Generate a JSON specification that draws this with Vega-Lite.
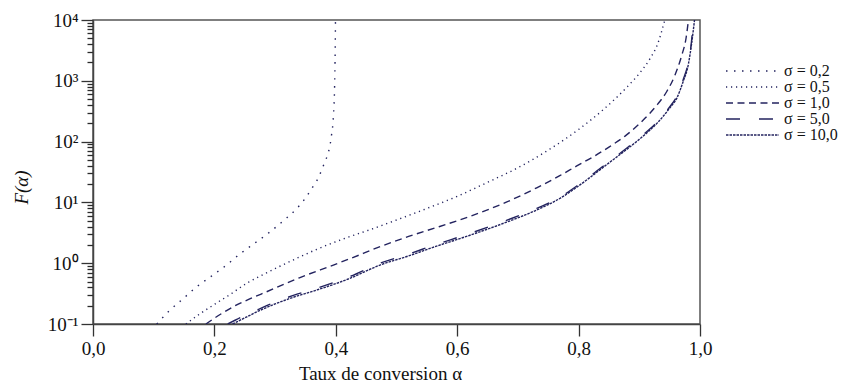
{
  "$schema": "https://vega.github.io/schema/vega-lite/v6.json",
  "width": 607,
  "height": 304,
  "autosize": {"type": "none"},
  "padding": {"left": 93, "top": 20, "right": 148, "bottom": 59},
  "background": "white",
  "config": {"view": {"stroke": "#555", "strokeWidth": 1.5}, "font": "Liberation Serif"},
  "data": {"values": [
    {"s": "σ = 0,2", "a": 0.105, "F": 0.1},
    {"s": "σ = 0,2", "a": 0.125, "F": 0.162},
    {"s": "σ = 0,2", "a": 0.149, "F": 0.264},
    {"s": "σ = 0,2", "a": 0.171, "F": 0.41},
    {"s": "σ = 0,2", "a": 0.196, "F": 0.622},
    {"s": "σ = 0,2", "a": 0.22, "F": 0.933},
    {"s": "σ = 0,2", "a": 0.242, "F": 1.416},
    {"s": "σ = 0,2", "a": 0.265, "F": 2.089},
    {"s": "σ = 0,2", "a": 0.292, "F": 3.296},
    {"s": "σ = 0,2", "a": 0.315, "F": 5.129},
    {"s": "σ = 0,2", "a": 0.336, "F": 8.0},
    {"s": "σ = 0,2", "a": 0.35, "F": 11.75},
    {"s": "σ = 0,2", "a": 0.363, "F": 18.62},
    {"s": "σ = 0,2", "a": 0.371, "F": 25.12},
    {"s": "σ = 0,2", "a": 0.382, "F": 46.77},
    {"s": "σ = 0,2", "a": 0.388, "F": 67.61},
    {"s": "σ = 0,2", "a": 0.393, "F": 128.8},
    {"s": "σ = 0,2", "a": 0.396, "F": 257},
    {"s": "σ = 0,2", "a": 0.398, "F": 794.3},
    {"s": "σ = 0,2", "a": 0.399, "F": 3162},
    {"s": "σ = 0,2", "a": 0.3995, "F": 10000},

    {"s": "σ = 0,5", "a": 0.153, "F": 0.1},
    {"s": "σ = 0,5", "a": 0.175, "F": 0.1445},
    {"s": "σ = 0,5", "a": 0.198, "F": 0.204},
    {"s": "σ = 0,5", "a": 0.225, "F": 0.302},
    {"s": "σ = 0,5", "a": 0.255, "F": 0.479},
    {"s": "σ = 0,5", "a": 0.28, "F": 0.646},
    {"s": "σ = 0,5", "a": 0.308, "F": 0.891},
    {"s": "σ = 0,5", "a": 0.34, "F": 1.259},
    {"s": "σ = 0,5", "a": 0.369, "F": 1.698},
    {"s": "σ = 0,5", "a": 0.418, "F": 2.63},
    {"s": "σ = 0,5", "a": 0.456, "F": 3.548},
    {"s": "σ = 0,5", "a": 0.5, "F": 5.129},
    {"s": "σ = 0,5", "a": 0.55, "F": 7.943},
    {"s": "σ = 0,5", "a": 0.6, "F": 12.59},
    {"s": "σ = 0,5", "a": 0.65, "F": 21.38},
    {"s": "σ = 0,5", "a": 0.7, "F": 37.15},
    {"s": "σ = 0,5", "a": 0.75, "F": 72.44},
    {"s": "σ = 0,5", "a": 0.8, "F": 158.5},
    {"s": "σ = 0,5", "a": 0.84, "F": 331.1},
    {"s": "σ = 0,5", "a": 0.88, "F": 794.3},
    {"s": "σ = 0,5", "a": 0.9, "F": 1318},
    {"s": "σ = 0,5", "a": 0.918, "F": 2344},
    {"s": "σ = 0,5", "a": 0.93, "F": 3981},
    {"s": "σ = 0,5", "a": 0.942, "F": 10000},

    {"s": "σ = 1,0", "a": 0.186, "F": 0.1},
    {"s": "σ = 1,0", "a": 0.21, "F": 0.1445},
    {"s": "σ = 1,0", "a": 0.236, "F": 0.204},
    {"s": "σ = 1,0", "a": 0.26, "F": 0.263},
    {"s": "σ = 1,0", "a": 0.286, "F": 0.339},
    {"s": "σ = 1,0", "a": 0.34, "F": 0.575},
    {"s": "σ = 1,0", "a": 0.396, "F": 0.933},
    {"s": "σ = 1,0", "a": 0.43, "F": 1.259},
    {"s": "σ = 1,0", "a": 0.462, "F": 1.698},
    {"s": "σ = 1,0", "a": 0.52, "F": 2.754},
    {"s": "σ = 1,0", "a": 0.57, "F": 3.981},
    {"s": "σ = 1,0", "a": 0.621, "F": 5.888},
    {"s": "σ = 1,0", "a": 0.68, "F": 10},
    {"s": "σ = 1,0", "a": 0.731, "F": 17.38},
    {"s": "σ = 1,0", "a": 0.769, "F": 27.54},
    {"s": "σ = 1,0", "a": 0.797, "F": 39.81},
    {"s": "σ = 1,0", "a": 0.824, "F": 56.23},
    {"s": "σ = 1,0", "a": 0.85, "F": 81.28},
    {"s": "σ = 1,0", "a": 0.879, "F": 128.8},
    {"s": "σ = 1,0", "a": 0.905, "F": 218.8},
    {"s": "σ = 1,0", "a": 0.929, "F": 398.1},
    {"s": "σ = 1,0", "a": 0.945, "F": 660.7},
    {"s": "σ = 1,0", "a": 0.959, "F": 1259},
    {"s": "σ = 1,0", "a": 0.97, "F": 2630},
    {"s": "σ = 1,0", "a": 0.977, "F": 5012},
    {"s": "σ = 1,0", "a": 0.981, "F": 10000},

    {"s": "σ = 10,0", "a": 0.23, "F": 0.1},
    {"s": "σ = 10,0", "a": 0.25, "F": 0.1259},
    {"s": "σ = 10,0", "a": 0.27, "F": 0.1585},
    {"s": "σ = 10,0", "a": 0.3, "F": 0.2138},
    {"s": "σ = 10,0", "a": 0.33, "F": 0.275},
    {"s": "σ = 10,0", "a": 0.369, "F": 0.363},
    {"s": "σ = 10,0", "a": 0.423, "F": 0.562},
    {"s": "σ = 10,0", "a": 0.473, "F": 0.933},
    {"s": "σ = 10,0", "a": 0.52, "F": 1.318},
    {"s": "σ = 10,0", "a": 0.56, "F": 1.82},
    {"s": "σ = 10,0", "a": 0.621, "F": 2.884},
    {"s": "σ = 10,0", "a": 0.68, "F": 4.677},
    {"s": "σ = 10,0", "a": 0.731, "F": 7.499},
    {"s": "σ = 10,0", "a": 0.77, "F": 11.75},
    {"s": "σ = 10,0", "a": 0.797, "F": 17.78},
    {"s": "σ = 10,0", "a": 0.824, "F": 28.18},
    {"s": "σ = 10,0", "a": 0.85, "F": 44.67},
    {"s": "σ = 10,0", "a": 0.879, "F": 74.13},
    {"s": "σ = 10,0", "a": 0.905, "F": 120.2},
    {"s": "σ = 10,0", "a": 0.929, "F": 199.5},
    {"s": "σ = 10,0", "a": 0.95, "F": 354.8},
    {"s": "σ = 10,0", "a": 0.962, "F": 524.8},
    {"s": "σ = 10,0", "a": 0.972, "F": 955},
    {"s": "σ = 10,0", "a": 0.981, "F": 1905},
    {"s": "σ = 10,0", "a": 0.986, "F": 3981},
    {"s": "σ = 10,0", "a": 0.991, "F": 10000},

    {"s": "σ = 5,0", "a": 0.222, "F": 0.1},
    {"s": "σ = 5,0", "a": 0.25, "F": 0.138},
    {"s": "σ = 5,0", "a": 0.27, "F": 0.1698},
    {"s": "σ = 5,0", "a": 0.3, "F": 0.229},
    {"s": "σ = 5,0", "a": 0.33, "F": 0.295},
    {"s": "σ = 5,0", "a": 0.369, "F": 0.389},
    {"s": "σ = 5,0", "a": 0.423, "F": 0.603},
    {"s": "σ = 5,0", "a": 0.473, "F": 1.0},
    {"s": "σ = 5,0", "a": 0.52, "F": 1.413},
    {"s": "σ = 5,0", "a": 0.56, "F": 1.95},
    {"s": "σ = 5,0", "a": 0.621, "F": 3.09},
    {"s": "σ = 5,0", "a": 0.68, "F": 5.012},
    {"s": "σ = 5,0", "a": 0.731, "F": 7.943},
    {"s": "σ = 5,0", "a": 0.77, "F": 12.3},
    {"s": "σ = 5,0", "a": 0.797, "F": 18.62},
    {"s": "σ = 5,0", "a": 0.824, "F": 29.51},
    {"s": "σ = 5,0", "a": 0.85, "F": 46.77},
    {"s": "σ = 5,0", "a": 0.879, "F": 77.62},
    {"s": "σ = 5,0", "a": 0.905, "F": 125.9},
    {"s": "σ = 5,0", "a": 0.929, "F": 208.9},
    {"s": "σ = 5,0", "a": 0.95, "F": 371.5},
    {"s": "σ = 5,0", "a": 0.962, "F": 562.3},
    {"s": "σ = 5,0", "a": 0.972, "F": 1023},
    {"s": "σ = 5,0", "a": 0.981, "F": 2089},
    {"s": "σ = 5,0", "a": 0.986, "F": 4467},
    {"s": "σ = 5,0", "a": 0.989, "F": 10000}
  ]},
  "mark": {"type": "line", "interpolate": "monotone", "strokeWidth": 1.4, "color": "#23235f", "clip": true},
  "encoding": {
    "x": {
      "field": "a", "type": "quantitative",
      "scale": {"domain": [0, 1], "nice": false},
      "axis": {
        "values": [0, 0.2, 0.4, 0.6, 0.8, 1],
        "labelExpr": "replace(format(datum.value, '.1f'), '.', ',')",
        "title": "Taux de conversion α",
        "grid": false,
        "tickSize": 12, "tickColor": "#333", "tickWidth": 1.3,
        "domainColor": "#444", "domainWidth": 1.5,
        "labelFontSize": 19, "labelPadding": 3, "labelColor": "#111", "labelFlush": false,
        "titleFontSize": 19, "titleFontWeight": "normal", "titleColor": "#111",
        "titleX": 287, "titleY": 49, "titleBaseline": "middle"
      }
    },
    "y": {
      "field": "F", "type": "quantitative",
      "scale": {"type": "log", "domain": [0.1, 10000], "nice": false},
      "axis": {
        "values": [0.1,0.2,0.3,0.4,0.5,0.6,0.7,0.8,0.9,1,2,3,4,5,6,7,8,9,10,20,30,40,50,60,70,80,90,100,200,300,400,500,600,700,800,900,1000,2000,3000,4000,5000,6000,7000,8000,9000,10000],
        "tickCount": 100,
        "labelExpr": "datum.value == 0.1 ? '10⁻¹' : datum.value == 1 ? '10⁰' : datum.value == 10 ? '10¹' : datum.value == 100 ? '10²' : datum.value == 1000 ? '10³' : datum.value == 10000 ? '10⁴' : ''",
        "tickSize": {"condition": {"test": "indexof([0.1,1,10,100,1000,10000], datum.value) >= 0", "value": 12}, "value": 6},
        "tickColor": {"condition": {"test": "indexof([0.1,1,10,100,1000,10000], datum.value) >= 0", "value": "#333"}, "value": "#2a2a2a"},
        "tickWidth": 1.3,
        "domainColor": "#444", "domainWidth": 1.5,
        "grid": false,
        "labelFontSize": 19, "labelPadding": 3, "labelColor": "#111", "labelFlush": false, "labelOverlap": false,
        "title": "F(α)", "titleFontStyle": "italic", "titleFontWeight": "normal", "titleFontSize": 19, "titleColor": "#111",
        "titleX": -72, "titleY": 167, "titleAngle": 270, "titleBaseline": "middle", "titleAlign": "center"
      }
    },
    "strokeDash": {
      "field": "s", "type": "nominal",
      "scale": {
        "domain": ["σ = 0,2", "σ = 0,5", "σ = 1,0", "σ = 5,0", "σ = 10,0"],
        "range": [[1.5, 6.5], [1.2, 3.8], [7, 4.5], [14, 19], [2.5, 1]]
      },
      "legend": {
        "orient": "none", "legendX": 632, "legendY": 43,
        "title": null, "symbolType": "stroke", "symbolSize": 2809,
        "clipHeight": 16, "rowPadding": 0, "padding": 0,
        "labelFontSize": 16, "labelOffset": 4, "labelColor": "#111",
        "symbolStrokeWidth": 1.3, "symbolStrokeColor": "#23235f"
      }
    }
  }
}
